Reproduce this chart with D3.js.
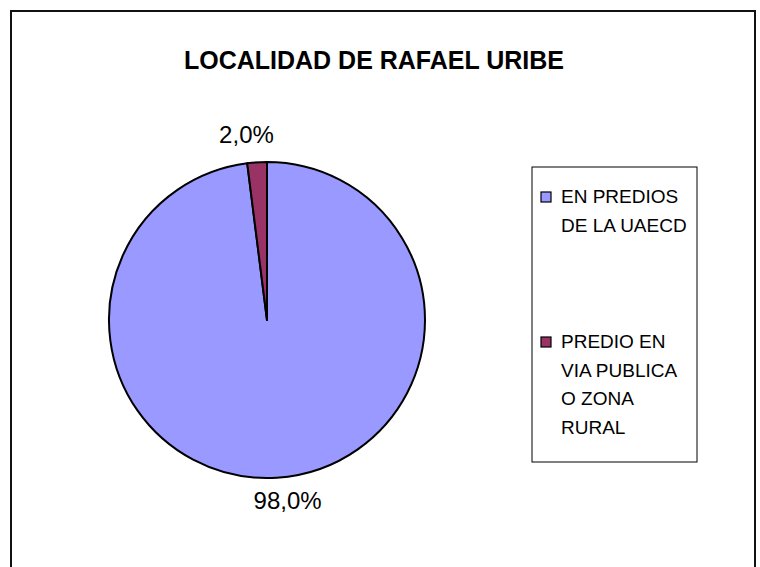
<!DOCTYPE html>
<html>
<head>
<meta charset="utf-8">
<script src="https://cdn.jsdelivr.net/npm/d3@7"></script>
<style>
  html, body { margin: 0; padding: 0; background: #fff; }
  svg { display: block; font-family: Arial, "Liberation Sans", sans-serif; }
</style>
</head>
<body>
<svg id="chart" width="760" height="567"></svg>
<script>
const title = 'LOCALIDAD DE RAFAEL URIBE';
const categories = ['EN PREDIOS DE LA UAECD', 'PREDIO EN VIA PUBLICA O ZONA RURAL'];
const legendLines = [['EN PREDIOS', 'DE LA UAECD'], ['PREDIO EN', 'VIA PUBLICA', 'O ZONA', 'RURAL']];
const values = [98.0, 2.0];
const colors = ['#9999FF', '#993366'];

const svg = d3.select('#chart');

// chart frame (bottom edge runs past the window)
svg.append('rect')
  .attr('x', 11).attr('y', 11)
  .attr('width', 744).attr('height', 600)
  .attr('fill', '#fff')
  .attr('stroke', '#111').attr('stroke-width', 2);

svg.append('text')
  .attr('x', 374).attr('y', 69)
  .attr('text-anchor', 'middle')
  .attr('font-size', 25).attr('font-weight', 'bold')
  .attr('fill', '#000')
  .text(title);

const cx = 267, cy = 320, r = 158;
const pie = d3.pie().sort(null).value((d) => d);
const arcs = pie(values);
const arc = d3.arc().innerRadius(0).outerRadius(r);
const fmt = (v) => d3.format('.1f')(v).replace('.', ',') + '%';

const g = svg.append('g').attr('transform', `translate(${cx},${cy})`);

g.selectAll('path')
  .data(arcs)
  .join('path')
  .attr('d', arc)
  .attr('fill', (d, i) => colors[i])
  .attr('stroke', '#000')
  .attr('stroke-width', 2)
  .attr('stroke-linejoin', 'round');

// percentage labels placed outside the pie
const labelArc = d3.arc().innerRadius(r + 26).outerRadius(r + 26);
g.selectAll('text.pct')
  .data(arcs)
  .join('text')
  .attr('class', 'pct')
  .attr('text-anchor', 'middle')
  .attr('font-size', 24)
  .attr('fill', '#000')
  .attr('x', (d) => {
    const mid = (d.startAngle + d.endAngle) / 2;
    return mid > Math.PI ? labelArc.centroid(d)[0] - 9 : labelArc.centroid(d)[0] + 9;
  })
  .attr('y', (d) => {
    const mid = (d.startAngle + d.endAngle) / 2;
    return mid > Math.PI * 1.5 ? -177 : 189;
  })
  .text((d) => fmt(d.data));

// legend
const legend = svg.append('g');
legend.append('rect')
  .attr('x', 532).attr('y', 167)
  .attr('width', 165).attr('height', 295)
  .attr('fill', '#fff')
  .attr('stroke', '#000').attr('stroke-width', 1);

const entryY = d3.scaleOrdinal().domain(categories).range([203, 348]);

const item = legend.selectAll('g.item')
  .data(categories)
  .join('g')
  .attr('class', 'item')
  .attr('transform', (d) => `translate(0,${entryY(d)})`);

item.append('rect')
  .attr('x', 541).attr('y', -11)
  .attr('width', 10).attr('height', 10)
  .attr('fill', (d, i) => colors[i])
  .attr('stroke', '#000').attr('stroke-width', 1.2);

item.append('text')
  .attr('font-size', 19)
  .attr('fill', '#000')
  .selectAll('tspan')
  .data((d, i) => legendLines[i])
  .join('tspan')
  .attr('x', 561)
  .attr('y', (d, j) => j * 28.7)
  .text((d) => d);
</script>
</body>
</html>
